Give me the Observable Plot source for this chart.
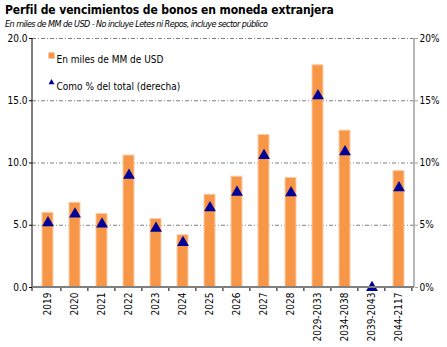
<!DOCTYPE html>
<html><head><meta charset="utf-8">
<script src="https://cdn.jsdelivr.net/npm/d3@7"></script>
<script src="https://cdn.jsdelivr.net/npm/@observablehq/plot@0.6"></script>
<style>
body{margin:0;background:#fff;}
#wrap{width:447px;height:347px;position:relative;overflow:hidden;font-family:"DejaVu Sans Condensed","DejaVu Sans",sans-serif;color:#000}
#title{position:absolute;left:5px;top:3px;font-weight:bold;font-size:12px;white-space:nowrap;letter-spacing:-0.1px}
#sub{position:absolute;left:5px;top:19px;font-style:italic;font-size:9px;white-space:nowrap;letter-spacing:-0.55px}
#chart{position:absolute;left:0;top:32px;}
</style></head><body>
<div id="wrap">
<div id="title">Perfil de vencimientos de bonos en moneda extranjera</div>
<div id="sub">En miles de MM de USD - No incluye Letes ni Repos, incluye sector público</div>
<div id="chart"></div>
</div>
<script>
const categories = ["2019","2020","2021","2022","2023","2024","2025","2026","2027","2028","2029-2033","2034-2038","2039-2043","2044-2117"];
const montos = [6.0, 6.8, 5.9, 10.6, 5.5, 4.2, 7.45, 8.9, 12.25, 8.8, 17.85, 12.6, 0, 9.35];
const porcentajes = [5.2, 5.9, 5.1, 9.0, 4.75, 3.6, 6.4, 7.65, 10.6, 7.6, 15.4, 10.9, 0, 8.0];
const leftTicks = [0, 5, 10, 15, 20];
const rightTicks = [0, 5, 10, 15, 20];
const legendLabels = ["En miles de MM de USD", "Como % del total (derecha)"];

const data = categories.map((c, i) => ({cat: c, monto: montos[i], pct: porcentajes[i]}));
const FONT = '"DejaVu Sans Condensed","DejaVu Sans",sans-serif';

// axis lines and category-boundary ticks drawn from the plot's scales
function frameLines(index, scales, values, dim) {
  const x = scales.x, y = scales.y;
  const step = x(categories[1]) - x(categories[0]);
  const x0 = dim.marginLeft, x1 = dim.width - dim.marginRight;
  const yb = y(0), yt = y(20);
  const g = d3.create("svg:g");
  g.append("line").attr("x1", x1).attr("x2", x1).attr("y1", yt).attr("y2", yb).attr("stroke", "#a0a0a0").attr("stroke-width", 1.5);
  g.append("line").attr("x1", x0).attr("x2", x0).attr("y1", yt).attr("y2", yb).attr("stroke", "#000").attr("stroke-width", 1);
  // x(c) is the band start; the category boundary after it lies at x(c) - 0.3*step + step
  const ticks = [x0].concat(categories.map(c => x(c) - 0.3 * step + step));
  for (const t of ticks) {
    g.append("line").attr("x1", t).attr("x2", t).attr("y1", yb).attr("y2", yb + 4).attr("stroke", "#000").attr("stroke-width", 1);
  }
  g.append("line").attr("x1", x0).attr("x2", x1).attr("y1", yb).attr("y2", yb).attr("stroke", "#808080").attr("stroke-width", 2);
  return g.node();
}

const chart = Plot.plot({
  width: 447,
  height: 315,
  marginTop: 6,
  marginBottom: 60,
  marginLeft: 32,
  marginRight: 33,
  style: {fontFamily: FONT, fontSize: "10px", color: "#000", background: "#fff"},
  x: {domain: categories, type: "band", paddingInner: 0.6, paddingOuter: 0.3},
  y: {domain: [0, 20]},
  marks: [
    Plot.gridY(leftTicks.filter(d => d > 0), {stroke: "#7f7f7f", strokeOpacity: 1, strokeDasharray: "4,2,1,2"}),
    Plot.barY(data, {x: "cat", y: "monto", fill: "#F79646", stroke: "#FBCDA8", strokeWidth: 1}),
    Plot.dot(data, {x: "cat", y: "pct", symbol: "triangle", r: 4.4, fill: "#000099", stroke: "none"}),
    frameLines,
    Plot.axisY(leftTicks, {anchor: "left", tickFormat: d => d.toFixed(1), tickSize: 3, tickPadding: 2, fontSize: 10}),
    Plot.axisY(rightTicks, {anchor: "right", tickFormat: d => d + "%", tickSize: 3, tickPadding: 2, fontSize: 10, stroke: "#a0a0a0"}),
    Plot.axisX({tickSize: 0, tickRotate: -90, tickPadding: 5, fontSize: 10, label: null}),
    Plot.dot([legendLabels[0]], {frameAnchor: "top-left", dx: 19, dy: 17, symbol: "square", r: 3.4, fill: "#F79646", stroke: "none"}),
    Plot.text([legendLabels[0]], {frameAnchor: "top-left", dx: 24, dy: 17, text: d => d, textAnchor: "start", fontSize: 10, letterSpacing: -0.2}),
    Plot.dot([legendLabels[1]], {frameAnchor: "top-left", dx: 19, dy: 44, symbol: "triangle", r: 2.2, fill: "#000099", stroke: "none"}),
    Plot.text([legendLabels[1]], {frameAnchor: "top-left", dx: 24, dy: 44, text: d => d, textAnchor: "start", fontSize: 10})
  ]
});
document.getElementById("chart").appendChild(chart);
</script>
</body></html>
